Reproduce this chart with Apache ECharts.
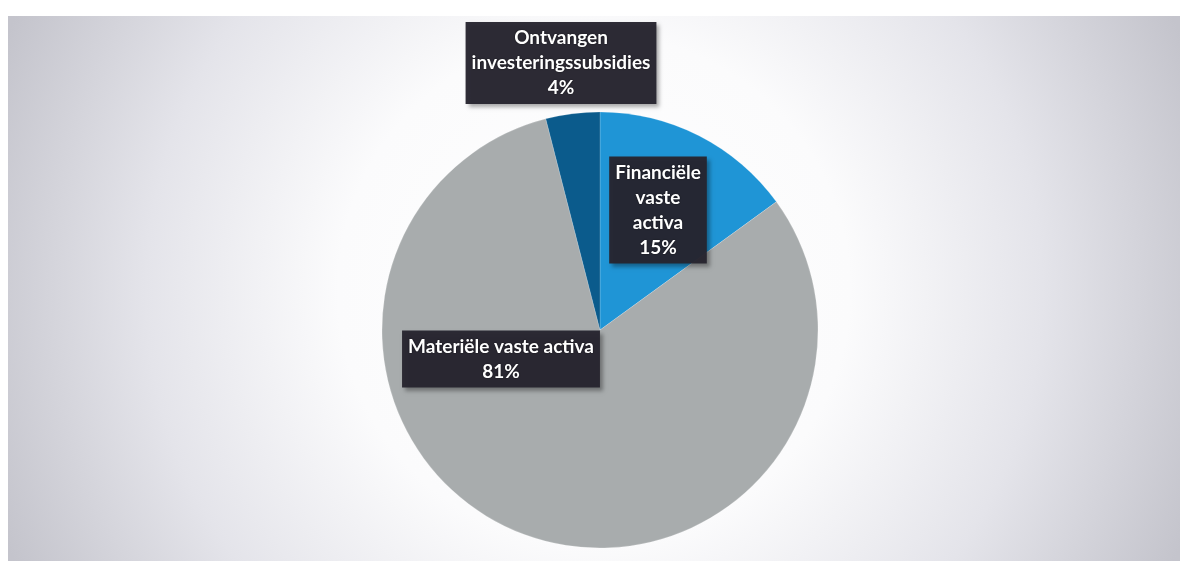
<!DOCTYPE html>
<html><head><meta charset="utf-8">
<script src="https://cdn.jsdelivr.net/npm/echarts@6/dist/echarts.min.js"></script>
<style>html,body{margin:0;padding:0;background:#fff}#c{width:1180px;height:561px}</style>
</head><body><div id="c"></div>
<script>
const categories = ['Financiële vaste activa', 'Materiële vaste activa', 'Ontvangen investeringssubsidies'];
const labelLines = ['Financiële\nvaste\nactiva', 'Materiële vaste activa', 'Ontvangen\ninvesteringssubsidies'];
const values = [15, 81, 4];
const colors = ['#1f95d6', '#a8acad', '#0b5b8c'];
const labelPos = [[658, 210], [501, 359], [561, 63]];

const chart = echarts.init(document.getElementById('c'), null, {renderer: 'canvas'});
chart.setOption({
  animation: false,
  graphic: [{
    type: 'rect', z: -10, silent: true,
    shape: {x: 8, y: 16, width: 1172, height: 545},
    style: {
      fill: new echarts.graphic.RadialGradient(594, 290, 640, [
        {offset: 0, color: '#ffffff'},
        {offset: 0.4, color: '#fbfbfc'},
        {offset: 0.7, color: '#e4e4ea'},
        {offset: 1, color: '#c4c4cc'}
      ], true)
    }
  }],
  series: [{
    type: 'pie',
    center: [600, 330],
    radius: 218,
    startAngle: 90,
    clockwise: true,
    data: categories.map((c, i) => ({name: c, value: values[i], itemStyle: {color: colors[i]}})),
    itemStyle: {borderColor: 'rgba(255,255,255,0.35)', borderWidth: 0.5},
    label: {
      show: true,
      position: 'inside',
      formatter: p => labelLines[p.dataIndex] + '\n' + p.percent.toFixed(0) + '%',
      color: '#ffffff',
      fontFamily: 'Lato',
      fontWeight: 'bold',
      fontSize: 19,
      lineHeight: 25,
      align: 'center',
      backgroundColor: 'rgba(38,36,47,0.96)',
      padding: [4, 6, 3, 6],
      shadowColor: 'rgba(0,0,0,0.35)',
      shadowBlur: 4,
      shadowOffsetX: 3,
      shadowOffsetY: 3,
      textShadowColor: 'rgba(0,0,0,0.6)',
      textShadowBlur: 2
    },
    labelLayout: p => ({
      x: labelPos[p.dataIndex][0],
      y: labelPos[p.dataIndex][1],
      align: 'center',
      verticalAlign: 'middle'
    }),
    labelLine: {show: false},
    emphasis: {disabled: true}
  }]
});
</script></body></html>
